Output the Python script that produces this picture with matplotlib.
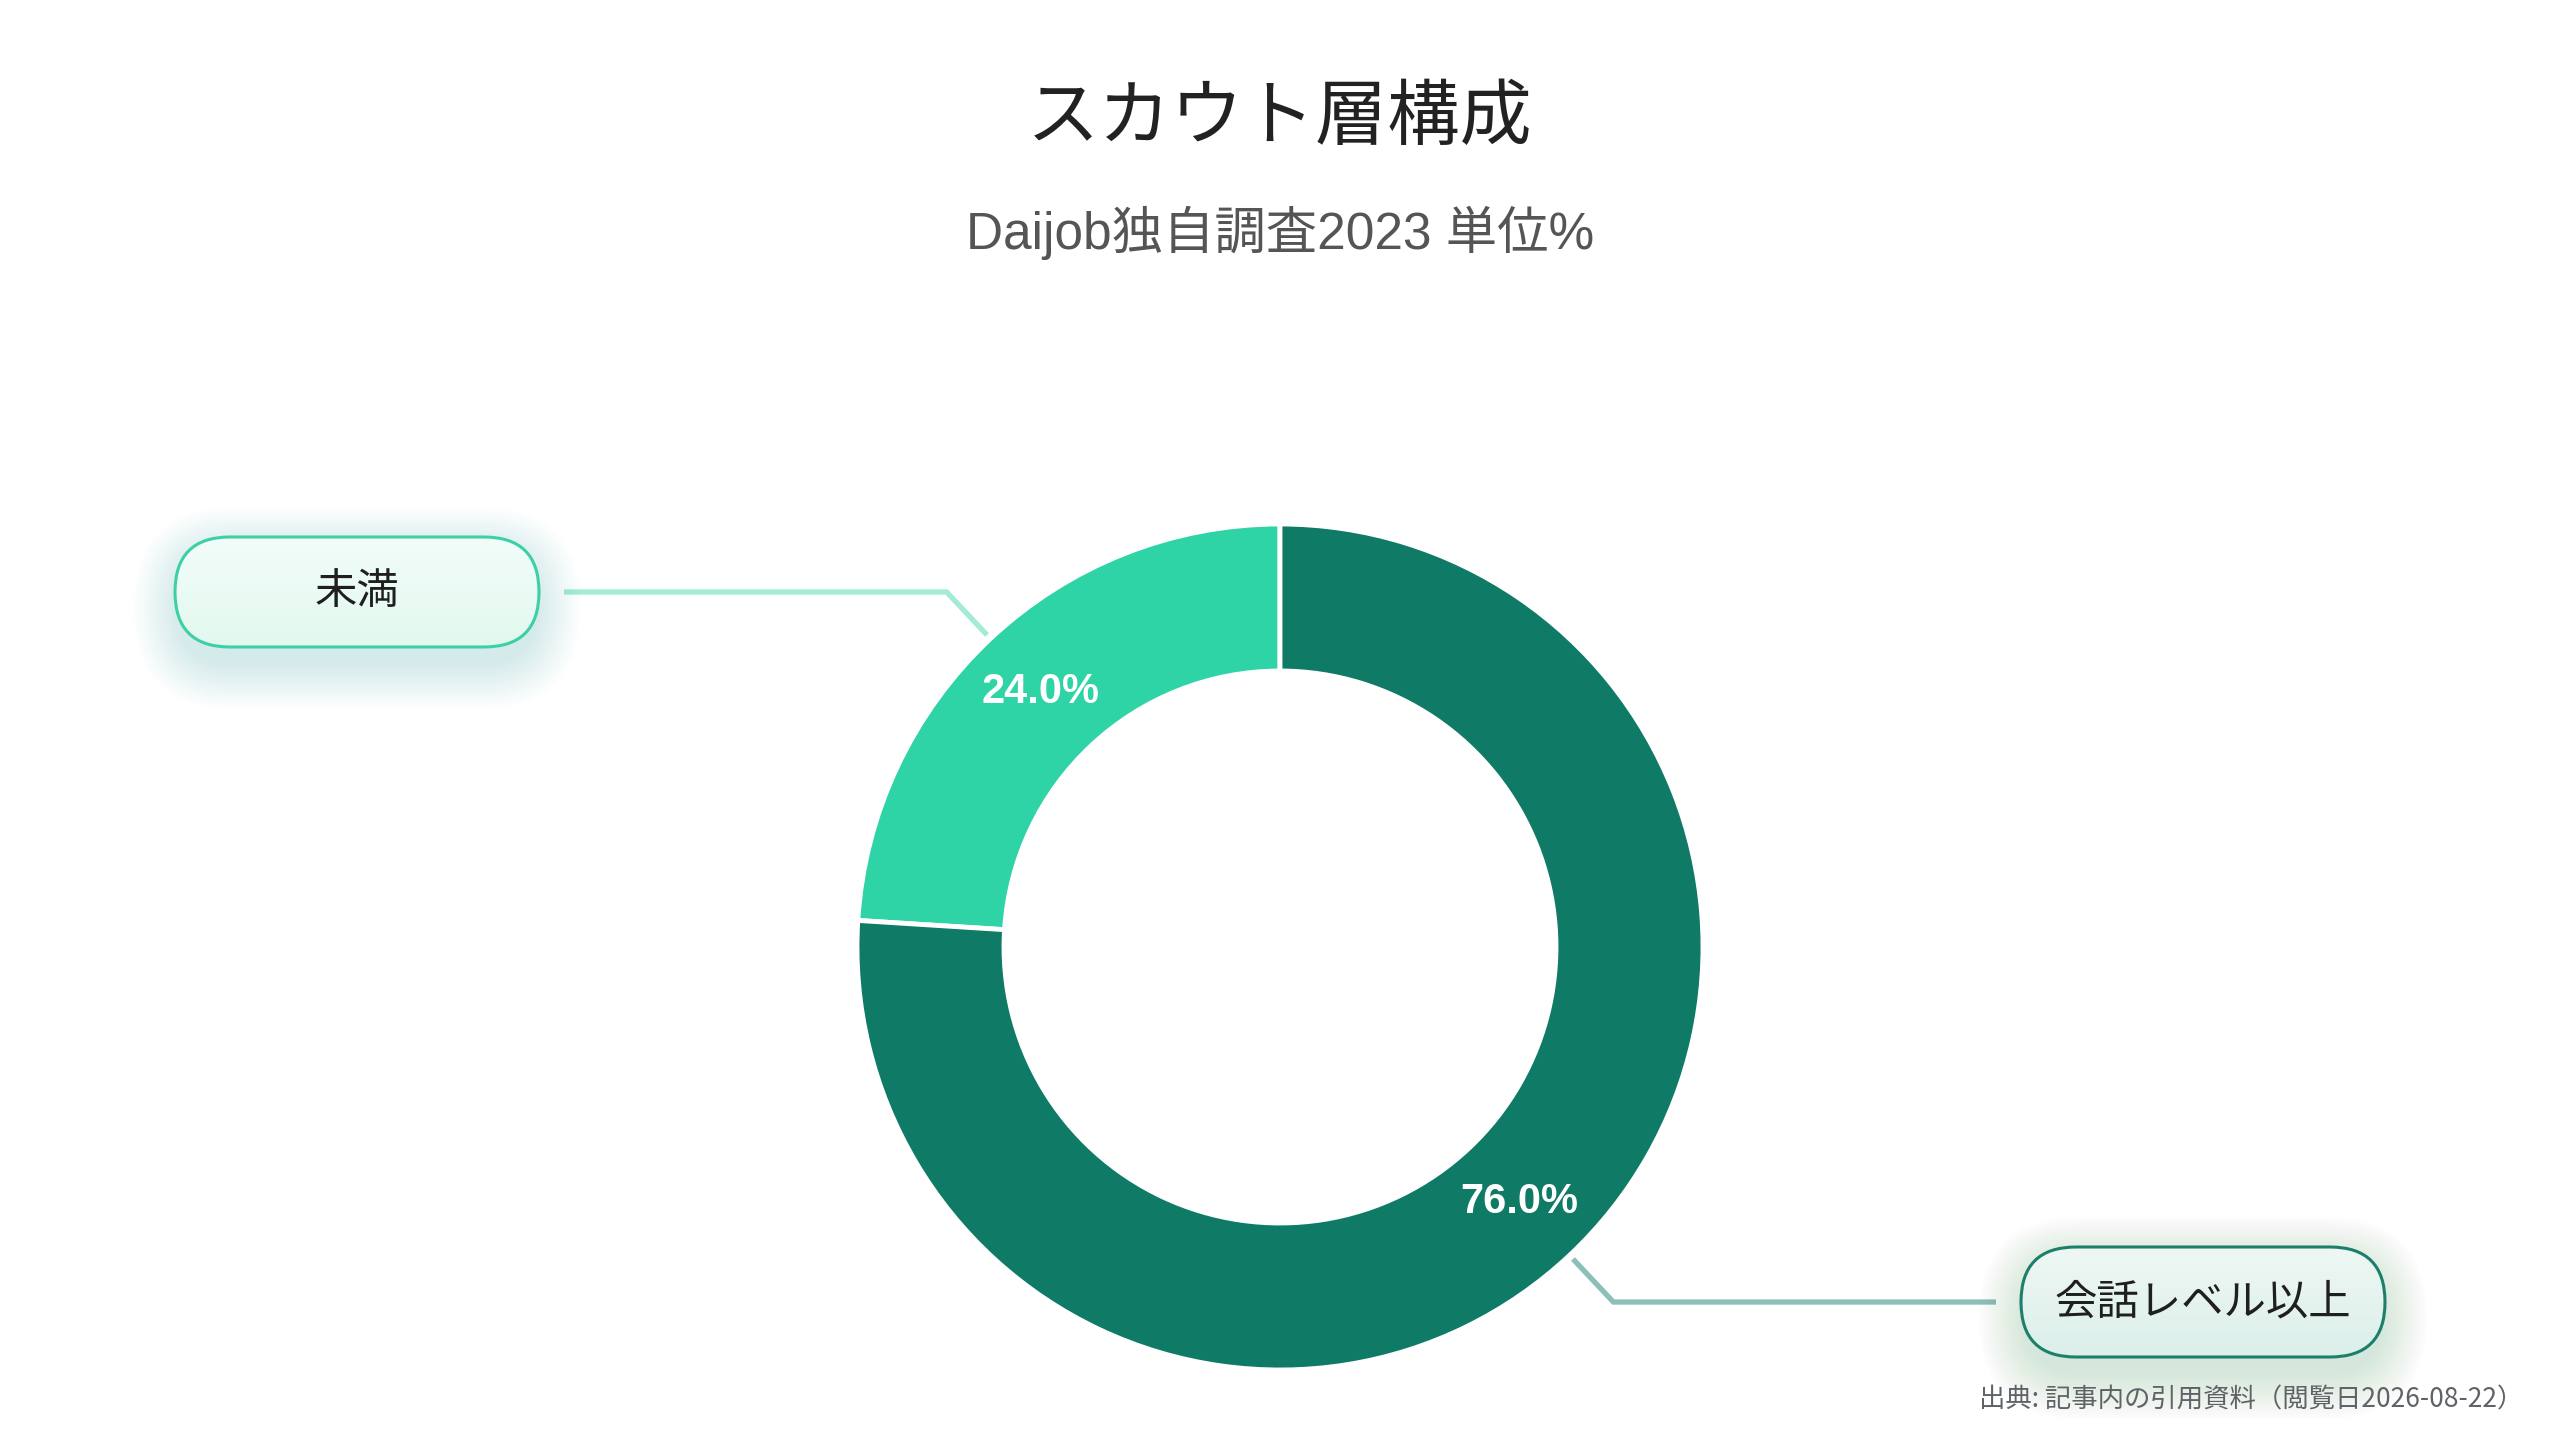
import matplotlib
matplotlib.use('Agg')
import matplotlib.pyplot as plt
import numpy as np
from matplotlib.patches import FancyBboxPatch
from matplotlib.colors import LinearSegmentedColormap, to_rgb

# ---- data ----
categories = ['未満', '会話レベル以上']
values = [24.0, 76.0]
colors = ['#2ED3A6', '#0F7A65']
title = 'スカウト層構成'
subtitle = 'Daijob独自調査2023 単位%'
source = '出典: 記事内の引用資料（閲覧日2026-08-22）'

plt.rcParams['font.family'] = ['Noto Sans CJK JP', 'DejaVu Sans']

W, H = 2560, 1440
fig = plt.figure(figsize=(25.6, 14.4), dpi=100)
ax = fig.add_axes([0, 0, 1, 1])

cx, cy = 1280, H - 947
R = 423
ring = 147

wedges, texts, autotexts = ax.pie(
    values, colors=colors, startangle=90, counterclock=True,
    radius=R, center=(cx, cy), autopct='%.1f%%',
    pctdistance=(R - ring / 2) / R,
    wedgeprops=dict(width=ring, edgecolor='white', linewidth=3.5, zorder=3),
    textprops=dict(color='white', fontsize=30, fontweight='bold',
                   family=['Liberation Sans', 'DejaVu Sans'], zorder=5))


def mix(c, t):
    r, g, b = to_rgb(c)
    return (r + (1 - r) * t, g + (1 - g) * t, b + (1 - b) * t)


box_style = {
    0: dict(edge='#3DCFA5', top='#F2FDF9', bot='#E2F8EF', glow='#2ED3A6'),
    1: dict(edge='#1B7F69', top='#EEF7F4', bot='#DCEFEA', glow='#0F7A65'),
}
box_cx = {-1: 357, 1: 2203}
bw, bh = 364, 110


def pill(xc, yc, st, label):
    x0, y0 = xc - bw / 2, yc - bh / 2
    # soft glow / shadow
    for k in range(1, 22):
        g = FancyBboxPatch((x0 + 4, y0 - 16), bw - 8, bh,
                           boxstyle=f"round,pad={k*2.2},rounding_size={bh/2 + k*2.2}",
                           facecolor=st['glow'], edgecolor='none', alpha=0.008, zorder=6)
        ax.add_patch(g)
    p = FancyBboxPatch((x0, y0), bw, bh,
                       boxstyle=f"round,pad=0,rounding_size={bh/2}",
                       facecolor='white', edgecolor='none', zorder=7)
    ax.add_patch(p)
    cmap = LinearSegmentedColormap.from_list('g', [st['bot'], st['top']])
    grad = np.linspace(0, 1, 256).reshape(-1, 1)
    im = ax.imshow(grad, extent=[x0, x0 + bw, y0, y0 + bh], origin='lower',
                   aspect='auto', cmap=cmap, zorder=8)
    im.set_clip_path(p)
    e = FancyBboxPatch((x0, y0), bw, bh,
                       boxstyle=f"round,pad=0,rounding_size={bh/2}",
                       facecolor='none', edgecolor=st['edge'], linewidth=2.2, zorder=9)
    ax.add_patch(e)
    ax.text(xc, yc, label, ha='center', va='center', fontsize=30.5,
            color='#1f1f1f', zorder=10)


for i, w in enumerate(wedges):
    th = np.deg2rad((w.theta1 + w.theta2) / 2)
    side = 1 if np.cos(th) > 0 else -1
    r0, r1 = R + 5, R + 64
    x0, y0 = cx + r0 * np.cos(th), cy + r0 * np.sin(th)
    x1, y1 = cx + r1 * np.cos(th), cy + r1 * np.sin(th)
    bx = box_cx[side]
    x2 = bx - side * (bw / 2 + 25)
    ax.plot([x0, x1, x2], [y0, y1, y1], color=mix(colors[i], 0.55 if i == 0 else 0.52),
            lw=3.8, solid_capstyle='butt', solid_joinstyle='miter', zorder=2)
    pill(bx, y1, box_style[i], categories[i])

fig.text(0.5, 1 - 118 / H, title, ha='center', va='center', fontsize=52, color='#222222')
fig.text(0.5, 1 - 233 / H, subtitle, ha='center', va='center', fontsize=37,
         color='#555555', family=['Liberation Sans', 'Noto Sans CJK JP'])
fig.text(2523 / W, 1 - 1400 / H, source, ha='right', va='center', fontsize=19,
         color='#5f6368')

ax.set_xlim(0, W)
ax.set_ylim(0, H)
ax.set_aspect('auto')
ax.axis('off')

fig.savefig('out.png', dpi=100, facecolor='white')
